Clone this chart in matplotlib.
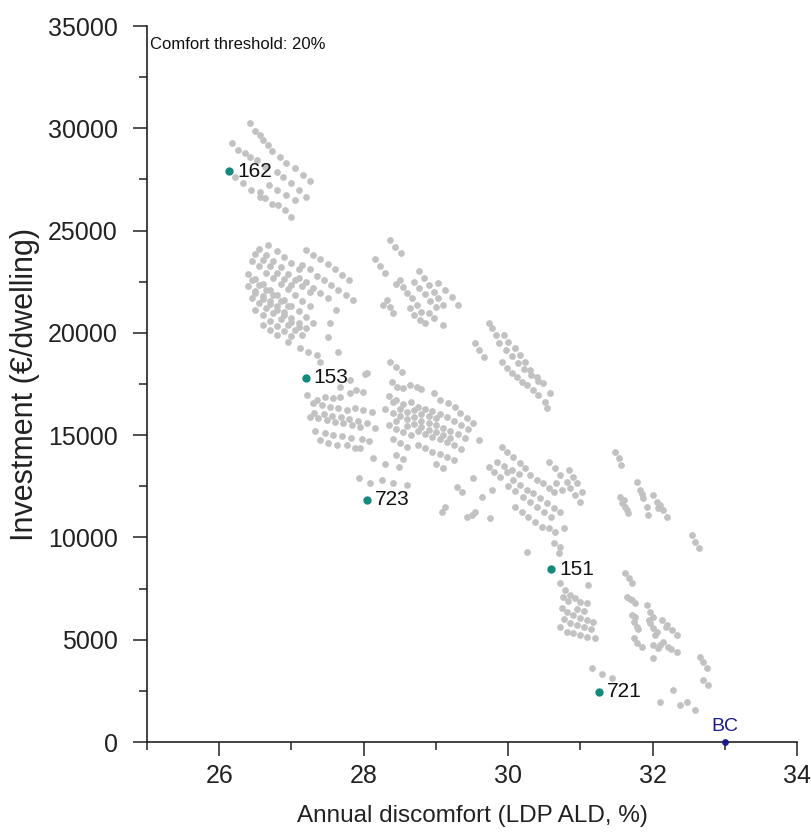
import matplotlib
matplotlib.use("Agg")
import matplotlib.pyplot as plt
from matplotlib.ticker import MultipleLocator

plt.rcParams['font.family'] = ['Liberation Sans', 'DejaVu Sans']

# ---- gray (all solutions) data, by cluster ----
c1 = [(26.42,30250),(26.50,29880),(26.56,29670),(26.61,29430),(26.67,29180),(26.73,28900),(26.84,28610),(26.93,28320),(27.05,28040),(27.16,27710),(27.26,27440),
      (26.17,29260),(26.26,28940),(26.36,28810),(26.43,28610),(26.52,28450),(26.63,28120),(26.80,27880),(26.88,27600),(27.00,27340),(27.10,26980),(27.20,26620),
      (26.22,27630),(26.33,27310),(26.44,26980),(26.57,26900),(26.69,27230),(26.80,26980),(26.93,26740),(27.05,26490),
      (26.57,26620),(26.63,26580),(26.73,26300),(26.82,26250),(26.91,26000),(26.99,25650)]
c2 = [(26.55,24100),(26.65,23800),(26.75,23500),(26.85,23200),(26.95,22900),(27.05,22600),(27.15,22300),(27.25,22000),
      (26.45,23500),(26.55,23250),(26.65,22950),(26.75,22700),(26.85,22400),(26.95,22150),(27.05,21850),(27.15,21550),(27.25,21300),
      (26.40,22900),(26.50,22650),(26.60,22400),(26.70,22100),(26.80,21850),(26.90,21600),(27.00,21300),(27.10,21050),(27.20,20800),(27.30,20500),
      (26.40,22300),(26.50,22050),(26.60,21800),(26.70,21550),(26.80,21300),(26.90,21000),(27.00,20750),(27.10,20500),(27.20,20250),
      (26.45,21700),(26.55,21450),(26.65,21200),(26.75,20950),(26.85,20700),(26.95,20400),(27.05,20150),(27.15,19900),
      (26.50,21100),(26.60,20850),(26.70,20600),(26.80,20350),(26.90,20100),(27.00,19850),
      (26.60,20400),(26.70,20150),(26.80,19900),(26.95,19550),
      (26.68,24300),(26.80,24000),(26.90,23700),(27.00,23400),(27.10,23100),
      (26.50,23870),(26.60,23550),(26.70,23250),(26.80,22950),(26.90,22650),(27.00,22350),
      (26.45,22600),(26.55,22350),(26.65,22100),(26.75,21850),(26.85,21550),(26.95,21300),
      (26.50,21950),(26.60,21650),(26.70,21400),(26.80,21100),(26.90,20850),(27.00,20550),(27.10,20300),
      (27.20,24050),(27.30,23800),(27.40,23600),(27.50,23350),(27.60,23100),(27.70,22850),(27.80,22600),
      (27.15,23300),(27.25,23100),(27.35,22800),(27.45,22600),(27.55,22350),(27.65,22100),(27.75,21850),(27.85,21600),
      (27.10,22700),(27.20,22500),(27.30,22200),(27.40,21950),(27.50,21700),
      (27.62,21120),(27.53,20480),(27.51,19810),
      (27.12,19260),(27.23,19060),(27.35,18920),(27.40,18590),(27.65,19080),(28.04,18040),(27.67,17370),(27.81,17690),(28.02,17990)]
c3 = [(27.21,16960),(27.35,16720),(27.47,16880),(27.58,16810),(27.67,16880),(27.81,17060),(27.90,17210),(27.99,17120),
      (27.30,16570),(27.42,16470),(27.53,16390),(27.65,16330),(27.77,16230),(27.88,16330),(27.99,16230),(28.11,16150),
      (27.31,16100),(27.45,16050),(27.56,15950),(27.68,15900),(27.80,15800),(27.92,15700),(28.05,15600),
      (27.26,15900),(27.37,15840),(27.49,15740),(27.60,15660),(27.71,15590),(27.84,15500),(27.95,15410),(28.16,15350),
      (27.33,15200),(27.46,15100),(27.58,15000),(27.70,14950),(27.82,14850),(27.97,14800),(28.08,14700),
      (27.40,14760),(27.51,14620),(27.63,14520),(27.77,14520),(27.88,14370),(27.95,14370),
      (28.13,13870),(28.30,13590),(28.49,13430),(27.93,12890),(28.09,12650),(28.25,12810),(28.41,12670),(28.60,12560)]
c4 = [(28.37,18580),(28.45,18330),(28.53,18080),
      (28.39,17610),(28.46,17370),(28.55,17290),(28.64,17450),(28.74,17370),(28.80,17240),(28.97,17040),(29.06,16720),(29.17,16560),(29.27,16390),(29.34,16070),(29.43,15820),(29.52,15580),(29.59,14760),
      (28.35,16900),(28.45,16700),(28.55,16500),(28.65,16600),(28.75,16400),(28.85,16300),(28.95,16200),(29.05,16050),(29.15,15900),(29.25,15700),(29.35,15500),(29.45,15300),
      (28.30,16300),(28.40,16100),(28.50,15950),(28.60,15800),(28.70,15900),(28.80,15700),(28.90,15600),(29.00,15500),(29.10,15350),(29.20,15200),(29.30,15050),(29.40,14850),
      (28.35,15500),(28.45,15300),(28.55,15150),(28.65,15000),(28.75,15200),(28.85,15050),(28.95,14900),(29.05,14800),(29.15,14650),(29.25,14500),(29.35,14300),
      (28.40,14800),(28.50,14600),(28.60,14400),(28.75,14500),(28.85,14350),(28.95,14200),(29.05,14100),(29.15,13950),(29.25,13800),
      (28.45,14050),(28.55,13850),(29.00,13600),(29.10,13400),
      (28.40,16600),(28.50,16300),(28.60,16150),(28.70,16250),(28.80,16050),(28.90,15950),(29.00,15850),
      (28.45,15700),(28.60,15450),(28.70,15550),(28.80,15400),(28.90,15250),(29.00,15150),(29.10,15000),(29.20,14850),
      (29.29,12480),(29.36,12230),(29.13,11500),(29.08,11260),(29.54,11260)]
c5 = [(28.37,24540),(28.43,24210),(28.51,23890),
      (28.16,23590),(28.23,23270),(28.30,22940),
      (28.76,23040),(28.83,22670),(28.90,22340),(28.97,22010),(29.03,21690),(29.10,21360),
      (29.03,22420),(29.13,22090),(29.22,21770),(29.31,21360),
      (28.50,22580),(28.55,22260),(28.60,21930),(28.67,21690),(28.74,21360),(28.80,21030),(28.78,20630),(28.85,20470),
      (28.32,21600),(28.37,21280),(28.41,20950),(28.27,21360),
      (28.64,21200),(28.69,20870),(28.90,20950),(28.97,20710),(29.10,20380),
      (28.70,22500),(28.76,22200),(28.85,21900),(28.92,21550),(29.00,21250),(28.45,22400)]
c6 = [(29.73,20470),(29.77,20220),(29.83,19890),(29.94,19890),(30.00,19570),(30.10,19240),(30.17,18920),(30.24,18590),(30.30,18180),(30.40,17860),(30.49,17530),(30.58,17040),
      (29.54,19490),(29.59,19160),(29.66,18830),
      (29.91,18590),(29.98,18270),(30.05,18020),(30.12,17860),(30.19,17610),(30.26,17450),(30.35,17210),(30.42,16960),(30.51,16630),(30.54,16310),
      (29.88,19500),(29.97,19150),(30.06,18850),(30.14,18550),(30.22,18250),(30.32,17950),(30.42,17650)]
c7 = [(29.91,14430),(29.98,14190),(30.07,13950),(30.17,13620),(30.24,13380),(30.30,13050),(30.40,12810),(30.49,12650),(30.56,12400),(30.63,12230),
      (29.73,13460),(29.80,13210),(29.89,12970),(29.98,13210),(30.07,12810),(30.17,12560),(30.26,12320),(30.35,12160),(30.44,11910),(30.54,11670),(30.63,11420),(30.72,11260),
      (30.10,11500),(30.19,11260),(30.28,11010),(30.37,10770),(30.47,10520),(30.56,10450),(30.65,10280),(30.77,10450),
      (29.77,12320),(29.64,11990),(29.52,12890),(29.43,11010),(29.50,11100),(29.75,10930),(30.63,9710),(30.72,9550),(30.26,9300),(30.70,9220),
      (30.56,13700),(30.65,13380),(30.72,13050),(30.81,12720),(30.86,12400),(30.93,12070),(31.00,11750),(30.67,12650),(30.74,12320),(30.84,13300),(30.90,12970),(30.95,12650),(31.02,12230),
      (29.85,13700),(29.95,13500),(30.05,13300),(30.15,13100),(30.00,12500),(30.10,12250),(30.20,12000),(30.30,11750),(30.40,11500),(30.50,11250),(30.60,11000)]
c8 = [(31.48,14190),(31.53,13870),(31.57,13540),(31.78,12720),(31.83,12320),(31.87,11910),(31.92,11500),(31.94,11100),
      (31.55,11990),(31.60,11830),(31.62,11500),(31.64,11340),(32.01,12070),(32.06,11750),(32.11,11590),(32.15,11340),(32.20,11010),
      (32.54,10120),(32.59,9790),(32.64,9470),(31.58,11700),(31.66,11200),(31.85,12100),(32.08,11450)]
c9 = [(30.72,7760),(30.79,7430),(30.86,7190),(30.93,7020),(31.00,6860),(31.09,6780),(31.11,7670),
      (30.74,6540),(30.81,6370),(30.90,6210),(31.00,6050),(31.09,5960),(31.18,5880),
      (30.81,5390),(30.90,5310),(31.00,5230),(31.09,5150),(31.20,5070),
      (30.76,7100),(30.83,6900),(30.95,6500),(31.05,6400),(30.78,6000),(30.86,5800),(30.95,5700),(31.05,5600),(31.15,5500),(30.72,5600)]
c10 = [(31.16,3600),(31.30,3320),(31.44,3110),(32.29,2540),(32.11,1970),(32.38,1810),(32.48,1970),(32.59,1560)]
c11 = [(31.62,8250),(31.67,8000),(31.71,7760),
       (31.64,7100),(31.71,6940),(31.76,6810),(31.92,6700),(31.97,6370),(32.01,6120),
       (31.71,6210),(31.74,5880),(31.78,5640),
       (31.97,5800),(32.01,5560),(32.06,5390),
       (32.13,5960),(32.20,5720),(32.27,5470),(32.34,5230),
       (31.74,5070),(31.78,4820),(31.85,4660),
       (32.01,4740),(32.08,4580),(32.15,4900),(32.22,4660),(32.34,4410),
       (32.01,4090),(32.66,4170),(32.70,3930),(32.75,3600),(32.70,3030),(32.77,2790),
       (31.69,7000),(31.80,5500),(32.04,5250),(32.18,5600),(32.25,4550),(32.10,4750),(31.76,6100),(31.95,5950)]

# ---- highlighted solutions ----
hl_labels = ["162", "153", "723", "151", "721"]
hl_x = [26.14, 27.20, 28.05, 30.60, 31.26]
hl_y = [27900, 17800, 11850, 8450, 2450]

bc_label = "BC"
bc_x = [33.0]
bc_y = [0]

x_ticks = [26, 28, 30, 32, 34]
y_ticks = [0, 5000, 10000, 15000, 20000, 25000, 30000, 35000]

all_pts = c1 + c2 + c3 + c4 + c5 + c6 + c7 + c8 + c9 + c10 + c11
gx = [p[0] for p in all_pts]
gy = [p[1] for p in all_pts]

fig = plt.figure(figsize=(8.11, 8.39), dpi=100)
ax = fig.add_axes([0.1813, 0.1156, 0.8014, 0.8534])

ax.scatter(gx, gy, s=24, color="#c2c2c2", linewidths=0, zorder=2)
ax.scatter(hl_x, hl_y, s=36, color="#138a7c", linewidths=0, zorder=3)
for lab, x, y in zip(hl_labels, hl_x, hl_y):
    ax.annotate(lab, (x, y), xytext=(5.5, 0), textcoords="offset points",
                ha="left", va="center", fontsize=15, color="#111111", zorder=4)
ax.scatter(bc_x, bc_y, s=24, color="#1a1a8c", linewidths=0, zorder=5, clip_on=False)
ax.annotate(bc_label, (bc_x[0], bc_y[0]), xytext=(0, 5), textcoords="offset points",
            ha="center", va="bottom", fontsize=14, color="#1a1a8c")

ax.text(0.005, 0.984, "Comfort threshold: 20%", transform=ax.transAxes,
        ha="left", va="top", fontsize=12, color="#111111")

ax.set_xlim(25, 34)
ax.set_ylim(0, 35000)
ax.set_xticks(x_ticks)
ax.set_yticks(y_ticks)
ax.xaxis.set_minor_locator(MultipleLocator(1))
ax.yaxis.set_minor_locator(MultipleLocator(2500))

for s in ["top", "right"]:
    ax.spines[s].set_visible(False)
for s in ["left", "bottom"]:
    ax.spines[s].set_linewidth(1.2)
    ax.spines[s].set_color("#222222")

ax.tick_params(which="major", direction="out", length=10, width=1.1, labelsize=18, colors="#222222")
ax.tick_params(which="minor", direction="out", length=5.5, width=1.1, colors="#222222")
ax.tick_params(axis="y", which="major", pad=11)
ax.tick_params(axis="x", which="major", pad=6)

ax.set_xlabel("Annual discomfort (LDP ALD, %)", fontsize=17.5, color="#222222", labelpad=12)
ax.set_ylabel("Investment (\u20ac/dwelling)", fontsize=22, color="#222222", labelpad=6)

fig.savefig("out.png", dpi=100, facecolor="white")
